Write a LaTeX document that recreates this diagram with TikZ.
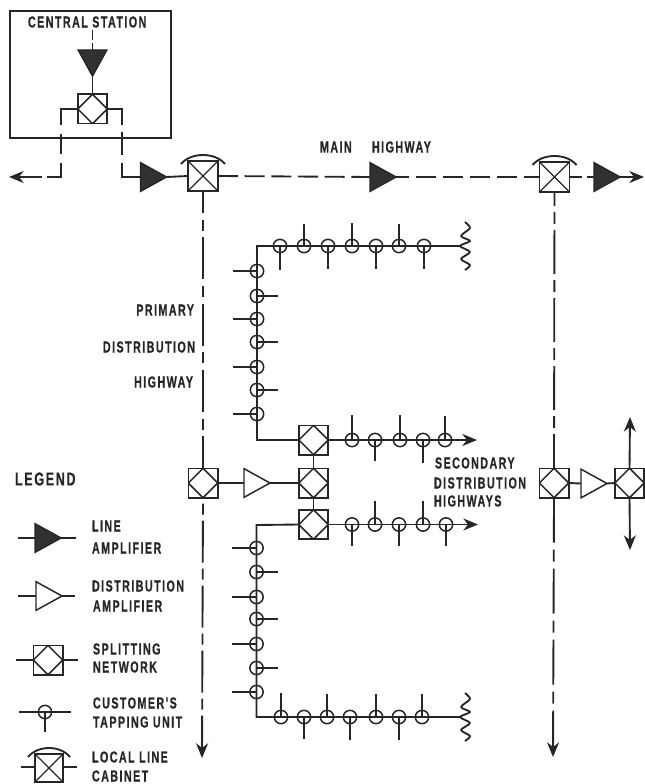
\documentclass[tikz,border=0pt]{standalone}
\usepackage{fontspec}
\usetikzlibrary{arrows.meta,shapes.geometric}
\newfontfamily\lblfont[FakeStretch=0.67,LetterSpace=9,FakeBold=0.5]{Liberation Sans}
\definecolor{ink}{HTML}{262626}
\tikzset{
  every node/.append style={outer sep=0pt},
  wire/.style={draw=ink,line width=1.4pt},
  thinwire/.style={draw=ink,line width=1.2pt},
  lbl/.style={font=\lblfont\bfseries\fontsize{12}{14}\selectfont,text=ink,inner sep=0pt,anchor=west},
  lblr/.style={lbl,anchor=east},
  splitbox/.style={rectangle,draw=ink,line width=1.25pt,minimum size=22pt,inner sep=0pt,
    path picture={\draw[ink,line width=1.15pt] (path picture bounding box.west)--(path picture bounding box.north)--(path picture bounding box.east)--(path picture bounding box.south)--cycle;}},
  cabbox/.style={rectangle,draw=ink,line width=1.25pt,minimum size=22.5pt,inner sep=0pt,
    path picture={\draw[ink,line width=1pt] (path picture bounding box.north west)--(path picture bounding box.south east) (path picture bounding box.north east)--(path picture bounding box.south west);}},
  amp/.style={isosceles triangle,isosceles triangle stretches,draw=ink,line width=1.1pt,minimum height=19.5pt,minimum width=21.5pt,inner sep=0pt,anchor=lower side},
  lineamp/.style={amp,fill=ink!95},
  distamp/.style={amp,fill=white},
  tap/.style={circle,draw=ink,line width=1.15pt,minimum size=10pt,inner sep=0pt},
  tip/.style={-{Stealth[length=11pt,width=9pt,inset=3.5pt]}},
}
\newcommand{\cabarc}[1]{\draw[wire] ([shift={(-7,3)}]#1.north west) .. controls ([shift={(3,-9)}]#1.north west) and ([shift={(-3,-9)}]#1.north east) .. ([shift={(7,3)}]#1.north east);}
\newcommand{\squiggle}[2]{\draw[wire,line join=round] plot[smooth,tension=0.45] coordinates {(#1,#2-24) (#1+5,#2-18) (#1-4,#2-10) (#1+5,#2-5) (#1-5,#2) (#1+5,#2+6) (#1-4,#2+13) (#1+5,#2+19) (#1,#2+24)};}
\begin{document}
\begin{tikzpicture}[x=0.75pt,y=-0.75pt]
\useasboundingbox (0,0) rectangle (645,784);

% ---- central station
\node[rectangle,draw=ink,line width=1.25pt,minimum width=120.75pt,minimum height=95.25pt,inner sep=0pt] (cs) at (90.5,74.5) {};
\node[lbl] (cstitle) at (28,22) {CENTRAL STATION};
\node[lineamp,shape border rotate=-90] (ca) at (92.5,50) {};
\node[splitbox] (cn) at (92.5,109) {};
\coordinate (cin) at (92.5,30);
\draw[wire,dash pattern=on 7.5pt off 2.5pt] (cin) -- (ca.lower side);
\draw[wire] (ca.apex) -- (cn.north);

% ---- main highway
\node[cabbox] (cabL) at (203,176) {};
\node[cabbox] (cabR) at (554.5,177) {};
\cabarc{cabL}
\cabarc{cabR}
\node[lineamp] (a1) at (140.5,177) {};
\node[lineamp] (a2) at (370,177) {};
\node[lineamp] (a3) at (594,177) {};
\coordinate (endR) at (644,177);
\coordinate (endL) at (9,177);
\coordinate (b1) at (61,109);
\coordinate (b2) at (61,177);
\coordinate (b3) at (122,109);
\coordinate (b4) at (122,177);
\draw[wire,tip,dash pattern=on 24.75pt off 6.75pt on 15pt off 6.75pt on 21pt off 3.75pt on 30pt]
  (cn.west) -- (b1) -- (b2) -- (endL);
\draw[wire,dash pattern=on 23.25pt off 5.25pt on 17.25pt off 6pt on 60pt]
  (cn.east) -- (b3) -- (b4) -- (a1.lower side);
\draw[wire] (a1.apex) -- (cabL.west);
\draw[wire,dash pattern=on 15pt off 5pt] (cabL.east) -- (a2.lower side);
\draw[wire,dash pattern=on 10pt off 5.25pt on 15pt off 5.25pt on 15pt off 5.25pt on 15pt off 5.25pt on 15pt off 5.25pt on 15pt off 5.25pt on 15pt] (a2.apex) -- (cabR.west);
\draw[wire,dash pattern=on 9pt off 3.75pt on 30pt off 1pt] (cabR.east) -- (a3.lower side);
\draw[wire,tip] (a3.apex) -- (endR);
\node[lbl] (mh1) at (320,147) {MAIN};
\node[lbl] (mh2) at (372,147) {HIGHWAY};

% ---- primary distribution highways
\node[splitbox] (sL) at (203,483) {};
\node[splitbox] (sR) at (554,483) {};
\node[splitbox] (sF) at (629.5,483) {};
\node[splitbox] (sA) at (313.5,440) {};
\node[splitbox] (sB) at (313.5,483) {};
\node[splitbox] (sC) at (313.5,524.5) {};
\node[distamp] (d1) at (244,483) {};
\node[distamp] (d2) at (581,483.5) {};
\coordinate (endLV) at (202,758);
\coordinate (endRV) at (553,757);
\coordinate (endFU) at (630,417);
\coordinate (endFD) at (630,550);
\draw[wire,dash pattern=on 31.5pt off 5pt on 8.25pt off 5pt,dash phase=15pt] (cabL.south) -- (sL.north);
\draw[wire,tip,dash pattern=on 31.5pt off 4.5pt on 8.25pt off 4.5pt,dash phase=31.5pt] (sL.south) -- (endLV);
\draw[wire,dash pattern=on 33pt off 4.5pt on 9pt off 4.5pt,dash phase=22.5pt] (cabR.south) -- (sR.north);
\draw[wire,tip,dash pattern=on 33.75pt off 5.25pt on 9pt off 5.25pt] (sR.south) -- (endRV);
\draw[wire] (sL.east) -- (d1.lower side);
\draw[wire] (d1.apex) -- (sB.west);
\draw[wire] (sA.south) -- (sB.north);
\draw[wire] (sB.south) -- (sC.north);
\draw[wire] (sR.east) -- (d2.lower side);
\draw[wire] (d2.apex) -- (sF.west);
\draw[wire,tip] (sF.north) -- (endFU);
\draw[wire,tip] (sF.south) -- (endFD);

% upper primary
\coordinate (k1) at (257,440);
\coordinate (k2) at (257,246);
\coordinate (k3) at (461,246);
\draw[wire] (sA.west) -- (k1) -- (k2) -- (k3);
\squiggle{465}{246}
\foreach \n/\y/\e in {1/271/233,2/296/278,3/319/233,4/342/278,5/367/233,6/390/278,7/414/233}
  {\node[tap] (pu\n) at (257,\y) {}; \draw[thinwire] (pu\n.center) -- (\e,\y);}
\foreach \n/\x/\e in {1/280/270,2/304/224,3/328/269,4/352/223,5/376/269,6/399/224,7/424/269}
  {\node[tap] (qu\n) at (\x,246) {}; \draw[thinwire] (qu\n.center) -- (\x,\e);}

% lower primary
\coordinate (m1) at (256.5,525);
\coordinate (m2) at (256.5,717);
\coordinate (m3) at (460,717);
\draw[wire] (sC.west) -- (m1) -- (m2) -- (m3);
\squiggle{465}{717}
\foreach \n/\y/\e in {1/548/232,2/572/278,3/597/232,4/619/278,5/644/232,6/668/278,7/692/232}
  {\node[tap] (pl\n) at (256.5,\y) {}; \draw[thinwire] (pl\n.center) -- (\e,\y);}
\foreach \n/\x/\e in {1/281/693,2/304/739,3/327/694,4/350/740,5/376/694,6/399/740,7/422/694}
  {\node[tap] (ql\n) at (\x,717) {}; \draw[thinwire] (ql\n.center) -- (\x,\e);}

% secondary highways
\coordinate (e1) at (477,440);
\coordinate (e2) at (478,524.5);
\draw[wire,tip] (sA.east) -- (e1);
\draw[wire,tip] (sC.east) -- (e2);
\foreach \n/\x/\e in {1/352/415,2/375/461,3/400/415,4/423/463,5/445/416}
  {\node[tap] (su\n) at (\x,440) {}; \draw[thinwire] (su\n.center) -- (\x,\e);}
\foreach \n/\x/\e in {1/352/546,2/375/501,3/399/546,4/423/501,5/446/546}
  {\node[tap] (sl\n) at (\x,524.5) {}; \draw[thinwire] (sl\n.center) -- (\x,\e);}

% labels
\node[lblr] (t1) at (194,310) {PRIMARY};
\node[lblr] (t2) at (195,347) {DISTRIBUTION};
\node[lblr] (t3) at (193,382) {HIGHWAY};
\node[lbl] (t4) at (435,463) {SECONDARY};
\node[lbl] (t5) at (434,483) {DISTRIBUTION};
\node[lbl] (t6) at (434,501) {HIGHWAYS};

% ---- legend
\node[lbl,font=\lblfont\bfseries\fontsize{14}{16}\selectfont] (lg) at (15,479) {LEGEND};
\node[lineamp] (la) at (35,538) {};
\coordinate (la1) at (18,538); \coordinate (la2) at (76,538);
\draw[wire] (la1) -- (la.lower side) (la.apex) -- (la2);
\node[distamp] (da) at (36,596) {};
\coordinate (da1) at (18,596); \coordinate (da2) at (75,596);
\draw[wire] (da1) -- (da.lower side) (da.apex) -- (da2);
\node[splitbox] (ls) at (48,660) {};
\coordinate (ls1) at (16,660); \coordinate (ls2) at (78,660);
\draw[wire] (ls1) -- (ls.west) (ls.east) -- (ls2);
\coordinate (lt1) at (19,712); \coordinate (lt2) at (71,712); \coordinate (lt3) at (45,732);
\draw[wire] (lt1) -- (lt2);
\node[tap] (lt) at (45,712) {};
\draw[wire] (lt.center) -- (lt3);
\node[cabbox,minimum size=21pt] (lc) at (49,768) {};
\cabarc{lc}
\coordinate (lc1) at (21,767); \coordinate (lc2) at (77,767);
\draw[wire] (lc1) -- (lc.west |- lc1) (lc.east |- lc2) -- (lc2);
\node[lbl] (n1) at (92,526) {LINE};
\node[lbl] (n2) at (92,548) {AMPLIFIER};
\node[lbl] (n3) at (92,586) {DISTRIBUTION};
\node[lbl] (n4) at (93,606) {AMPLIFIER};
\node[lbl] (n5) at (93,649) {SPLITTING};
\node[lbl] (n6) at (93,667) {NETWORK};
\node[lbl] (n7) at (93,703) {CUSTOMER'S};
\node[lbl] (n8) at (93,722) {TAPPING UNIT};
\node[lbl] (n9) at (92,757) {LOCAL LINE};
\node[lbl] (n10) at (92,776) {CABINET};
\end{tikzpicture}
\end{document}
